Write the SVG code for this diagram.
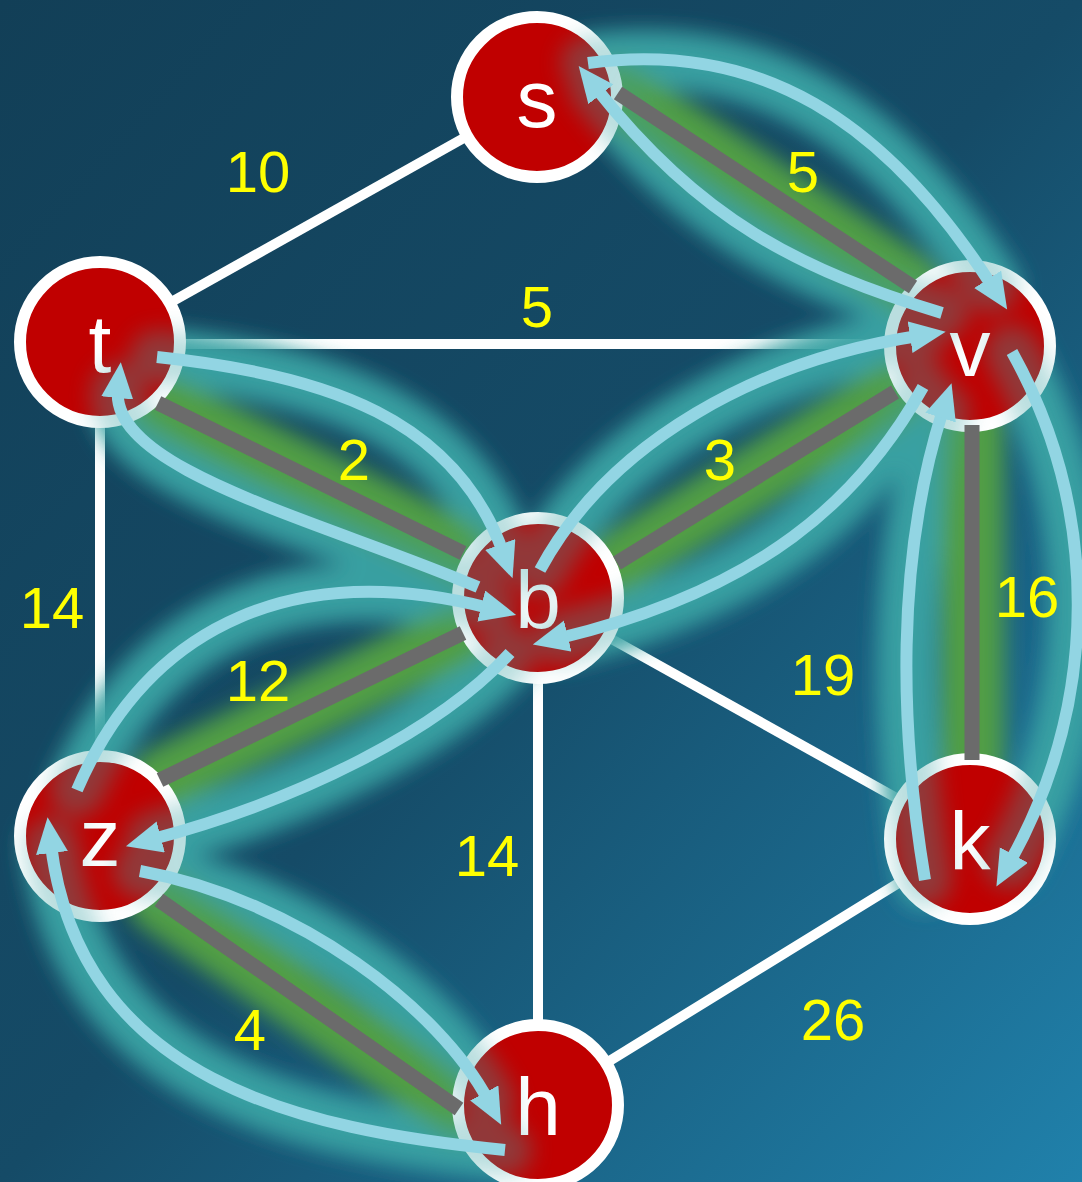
<svg xmlns="http://www.w3.org/2000/svg" width="1082" height="1182" viewBox="0 0 1082 1182">
<defs>
<linearGradient id="bg" x1="0" y1="0" x2="1" y2="1">
<stop offset="0" stop-color="#123f57"/>
<stop offset="0.5" stop-color="#154b67"/>
<stop offset="1" stop-color="#2081ab"/>
</linearGradient>
<filter id="blur" x="-20%" y="-20%" width="140%" height="140%"><feGaussianBlur stdDeviation="11"/></filter>
<marker id="ah" markerUnits="userSpaceOnUse" markerWidth="40" markerHeight="36" refX="8" refY="16" orient="auto"><path d="M0,0 L36,16 L0,32 z" fill="#92d5e3"/></marker>
<style>
.w{stroke:#ffffff;stroke-width:10;fill:none}
.g{stroke:#6b6b6b;stroke-width:15;fill:none}
.gt{stroke:#3aa3a4;stroke-width:54;fill:none;stroke-linecap:round}
.gg{stroke:#519e44;stroke-width:64;fill:none;stroke-linecap:round}
.a{stroke:#92d5e3;stroke-width:12;fill:none;marker-end:url(#ah)}
.n circle{fill:#c00000;stroke:#ffffff;stroke-width:12}
.n text{fill:#ffffff;font-family:"Liberation Sans",Arial,sans-serif;font-size:82px;text-anchor:middle}
.lb{fill:#ffff00;font-family:"Liberation Sans",Arial,sans-serif;font-size:58px;text-anchor:middle}
</style>
</defs>
<rect width="1082" height="1182" fill="url(#bg)"/>
<g id="edges">
<line class="w" x1="537" y1="97" x2="100" y2="342"/>
<line class="w" x1="100" y1="344" x2="970" y2="344"/>
<line class="w" x1="100" y1="342" x2="100" y2="836"/>
<line class="w" x1="538" y1="598" x2="970" y2="839"/>
<line class="w" x1="538" y1="598" x2="538" y2="1105"/>
<line class="w" x1="538" y1="1105" x2="970" y2="839"/>
</g>
<g id="glow" filter="url(#blur)">
<g opacity="0.95">
<path class="gt" d="M588,63 C760,40 885,120 992,286"/>
<path class="gt" d="M942,313 C800,270 700,220 596,88"/>
<path class="gt" d="M157,357 C330,375 455,420 503,552"/>
<path class="gt" d="M478,587 C320,520 110,470 118,390"/>
<path class="gt" d="M540,570 C600,450 760,360 918,336"/>
<path class="gt" d="M923,387 C860,500 760,590 560,638"/>
<path class="gt" d="M77,790 C150,620 300,560 489,608"/>
<path class="gt" d="M510,653 C440,730 300,800 153,839"/>
<path class="gt" d="M140,871 C300,900 440,1010 488,1100"/>
<path class="gt" d="M505,1150 C300,1130 80,1080 51,845"/>
<path class="gt" d="M1012,352 C1100,510 1100,700 1010,862"/>
<path class="gt" d="M925,880 C900,730 895,560 943,410"/>
</g>
<g>
<line class="gg" x1="618" y1="93" x2="913" y2="287"/>
<line class="gg" x1="158" y1="403" x2="463" y2="553"/>
<line class="gg" x1="617" y1="563" x2="895" y2="392"/>
<line class="gg" x1="463" y1="633" x2="160" y2="780"/>
<line class="gg" x1="159" y1="900" x2="459" y2="1109"/>
<line class="gg" x1="972" y1="425" x2="972" y2="760"/>
</g>
</g>
<g id="nodes">
<g id="node-s" class="n"><circle cx="537" cy="97" r="80"/><text x="537" y="127">s</text></g>
<g id="node-t" class="n"><circle cx="100" cy="342" r="80"/><text x="100" y="372">t</text></g>
<g id="node-v" class="n"><circle cx="970" cy="346" r="80"/><text x="970" y="376">v</text></g>
<g id="node-b" class="n"><circle cx="538" cy="598" r="80"/><text x="538" y="628">b</text></g>
<g id="node-z" class="n"><circle cx="100" cy="836" r="80"/><text x="100" y="866">z</text></g>
<g id="node-k" class="n"><circle cx="970" cy="839" r="80"/><text x="970" y="869">k</text></g>
<g id="node-h" class="n"><circle cx="538" cy="1105" r="80"/><text x="538" y="1135">h</text></g>
</g>
<g id="glow-overlay" filter="url(#blur)" opacity="0.35">
<path class="gt" d="M588,63 C760,40 885,120 992,286"/>
<path class="gt" d="M942,313 C800,270 700,220 596,88"/>
<path class="gt" d="M157,357 C330,375 455,420 503,552"/>
<path class="gt" d="M478,587 C320,520 110,470 118,390"/>
<path class="gt" d="M540,570 C600,450 760,360 918,336"/>
<path class="gt" d="M923,387 C860,500 760,590 560,638"/>
<path class="gt" d="M77,790 C150,620 300,560 489,608"/>
<path class="gt" d="M510,653 C440,730 300,800 153,839"/>
<path class="gt" d="M140,871 C300,900 440,1010 488,1100"/>
<path class="gt" d="M505,1150 C300,1130 80,1080 51,845"/>
<path class="gt" d="M1012,352 C1100,510 1100,700 1010,862"/>
<path class="gt" d="M925,880 C900,730 895,560 943,410"/>
</g>
<g id="path-edges">
<line class="g" x1="618" y1="93" x2="913" y2="287"/>
<line class="g" x1="158" y1="403" x2="463" y2="553"/>
<line class="g" x1="617" y1="563" x2="895" y2="392"/>
<line class="g" x1="463" y1="633" x2="160" y2="780"/>
<line class="g" x1="159" y1="900" x2="459" y2="1109"/>
<line class="g" x1="972" y1="425" x2="972" y2="760"/>
</g>
<g id="arrows">
<path class="a" d="M588,63 C760,40 885,120 992,286"/>
<path class="a" d="M942,313 C800,270 700,220 596,88"/>
<path class="a" d="M157,357 C330,375 455,420 503,552"/>
<path class="a" d="M478,587 C320,520 110,470 118,390"/>
<path class="a" d="M540,570 C610,440 760,360 918,336"/>
<path class="a" d="M923,387 C860,500 760,590 560,638"/>
<path class="a" d="M77,790 C150,620 300,560 489,608"/>
<path class="a" d="M510,653 C440,730 300,800 153,839"/>
<path class="a" d="M140,871 C300,900 440,1010 488,1100"/>
<path class="a" d="M505,1150 C300,1130 80,1080 51,845"/>
<path class="a" d="M1012,352 C1100,510 1100,700 1010,862"/>
<path class="a" d="M925,880 C900,730 895,560 943,410"/>
</g>
<g id="labels">
<text class="lb" x="258" y="192">10</text>
<text class="lb" x="803" y="192">5</text>
<text class="lb" x="537" y="327">5</text>
<text class="lb" x="354" y="480">2</text>
<text class="lb" x="720" y="480">3</text>
<text class="lb" x="52" y="628">14</text>
<text class="lb" x="1027" y="617">16</text>
<text class="lb" x="258" y="701">12</text>
<text class="lb" x="823" y="695">19</text>
<text class="lb" x="487" y="876">14</text>
<text class="lb" x="250" y="1050">4</text>
<text class="lb" x="833" y="1040">26</text>
</g>
</svg>
